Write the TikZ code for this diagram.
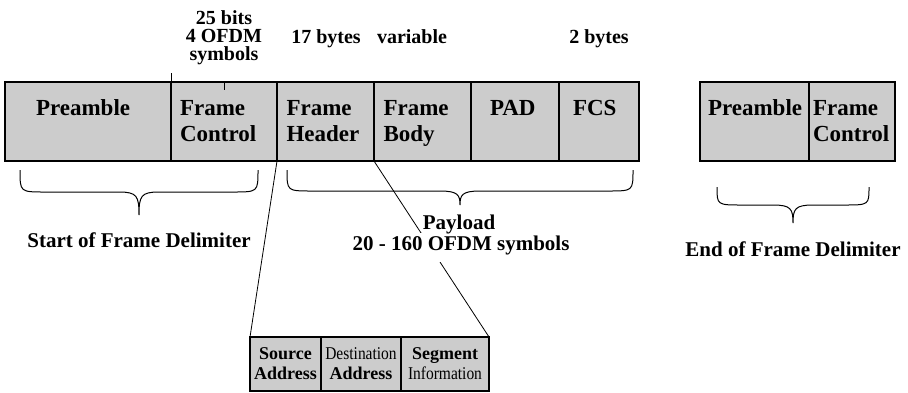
\documentclass[tikz,border=0pt]{standalone}
\usepackage{graphicx}
\usepackage{fontspec}
\setmainfont{Liberation Serif}
\usetikzlibrary{positioning}
\tikzset{
  cell/.style={draw, fill=gray!40, line width=0.75pt, minimum height=39.5pt,
    outer sep=0pt, inner xsep=0pt, inner ysep=2pt, align=left,
    font=\fontsize{11.5}{13}\selectfont\bfseries,
    execute at begin node=\rule{0pt}{11.1pt}, execute at end node=\strut},
  subcell/.style={draw, fill=gray!40, line width=0.75pt, minimum height=27pt,
    outer sep=0pt, inner sep=1pt, align=center,
    font=\fontsize{9}{10}\selectfont\bfseries},
  lbl/.style={align=center, inner sep=1pt, font=\fontsize{10}{9}\selectfont\bfseries},
  txt/.style={align=center, inner sep=1pt, font=\fontsize{10.5}{11}\selectfont\bfseries},
  brc/.style={line width=0.5pt}
}
\newcommand{\narrow}[1]{\scalebox{0.86}[1]{\fontsize{9}{10}\selectfont\mdseries #1}}
% brace: x1, x2, top, bar, tip
\newcommand{\fbrace}[5]{%
\draw[brc] (#1,#3) .. controls (#1,#4) .. ({#1+25},#4) -- ({(#1+#2)/2-20},#4)
  .. controls ({(#1+#2)/2-2},#4) and ({(#1+#2)/2},{#4+4}) .. ({(#1+#2)/2},#5)
  .. controls ({(#1+#2)/2},{#4+4}) and ({(#1+#2)/2+2},#4) .. ({(#1+#2)/2+20},#4)
  -- ({#2-25},#4) .. controls (#2,#4) .. (#2,#3);}
\begin{document}
\begin{tikzpicture}[x=0.5pt,y=-0.5pt]
\useasboundingbox (0,0) rectangle (908,392);
% frame
\node[cell, minimum width=83pt, text width=52pt, anchor=north west] (pre) at (5,82) {Preamble\\~};
\node[cell, minimum width=53pt, text width=44pt, right=0pt of pre] (fc) {Frame\\Control};
\node[cell, minimum width=48.5pt, text width=39pt, right=0pt of fc] (fh) {Frame\\Header};
\node[cell, minimum width=48.5pt, text width=39pt, right=0pt of fh] (fb) {Frame\\Body};
\node[cell, minimum width=44pt, text width=25pt, right=0pt of fb] (pad) {PAD\\~};
\node[cell, minimum width=40pt, text width=26pt, right=0pt of pad] (fcs) {FCS\\~};
% end of frame
\node[cell, minimum width=54.5pt, text width=46.5pt, anchor=north west] (epre) at (700,82) {Preamble\\~};
\node[cell, minimum width=43pt, text width=39pt, right=0pt of epre] (efc) {Frame\\Control};
% header fields
\node[subcell, minimum width=35.5pt, anchor=north west] (src) at (250,337) {Source\\Address};
\node[subcell, minimum width=40pt, right=0pt of src] (dst) {\narrow{Destination}\\Address};
\node[subcell, minimum width=44pt, right=0pt of dst] (seg) {Segment\\\narrow{Information}};
\draw (fc.north west) -- ++(0,-9);
\draw (fc.north) -- ++(0,8);
\draw (fc.south east) -- (src.north west);
\draw (fh.south east) -- (seg.north east);
% sizes
\node[lbl] (fcsz) at (224,38) {25 bits\\4 OFDM\\symbols};
\node[lbl, anchor=base] (fhsz) at (326,43) {17 bytes};
\node[lbl, anchor=base] (fbsz) at (412,43) {variable};
\node[lbl, anchor=base] (fcssz) at (599,43) {2 bytes};
% braces
\fbrace{20}{258}{170}{192}{215}
\fbrace{287}{633}{170}{191}{205}
\fbrace{717}{869}{187}{205}{223}
\node[txt, anchor=base] (sof) at (139,247) {Start of Frame Delimiter};
\node[txt, fill=white, inner xsep=3pt, inner ysep=1pt, text depth=5pt, anchor=base] (paysym) at (461,250) {20 - 160 OFDM symbols};
\node[txt, anchor=base] (pay) at (459,229) {Payload};
\node[txt, anchor=base] (eof) at (793,256) {End of Frame Delimiter};
\end{tikzpicture}
\end{document}
